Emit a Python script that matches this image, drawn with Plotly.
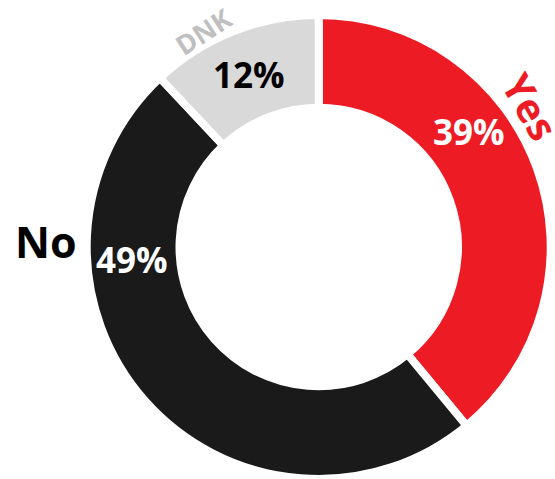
import plotly.graph_objects as go

# Survey answer shares (percent)
categories = ["Yes", "No", "DNK"]
values = [39, 49, 12]
colors = ["#ED1C24", "#1A1A1A", "#D9D9D9"]

W, H = 555, 479

fig = go.Figure(
    go.Pie(
        labels=categories,
        values=values,
        sort=False,
        direction="clockwise",
        rotation=0,
        hole=0.60,
        marker=dict(colors=colors, line=dict(color="white", width=8)),
        textinfo="none",
        hoverinfo="label+percent",
        showlegend=False,
        domain=dict(x=[0.1562, 0.9923], y=[0.0, 0.9687]),
    )
)


def px(x, y):
    return x / W, 1 - y / H


FONT = "Open Sans"

# percentage labels on the ring
pct_style = {
    "Yes": dict(pos=(469, 131), color="white"),
    "No": dict(pos=(132, 259), color="white"),
    "DNK": dict(pos=(249, 74), color="black"),
}
for cat, v in zip(categories, values):
    s = pct_style[cat]
    x, y = px(*s["pos"])
    fig.add_annotation(
        x=x, y=y, xref="paper", yref="paper", showarrow=False,
        text=f"<b>{v}%</b>",
        font=dict(family=FONT, size=35, color=s["color"]),
        xanchor="center", yanchor="middle",
    )

# category labels around the ring
cat_style = {
    "Yes": dict(pos=(531, 106), color="#ED1C24", size=40, angle=60),
    "No": dict(pos=(46, 242), color="black", size=43, angle=0),
    "DNK": dict(pos=(203, 31), color="#BFBFBF", size=27, angle=-33),
}
for cat in categories:
    s = cat_style[cat]
    x, y = px(*s["pos"])
    fig.add_annotation(
        x=x, y=y, xref="paper", yref="paper", showarrow=False,
        text=f"<b>{cat}</b>",
        textangle=s["angle"],
        font=dict(family=FONT, size=s["size"], color=s["color"]),
        xanchor="center", yanchor="middle",
    )

fig.update_layout(
    width=W, height=H,
    margin=dict(l=0, r=0, t=0, b=0),
    paper_bgcolor="white",
    plot_bgcolor="white",
)

fig.write_html("out.html")
